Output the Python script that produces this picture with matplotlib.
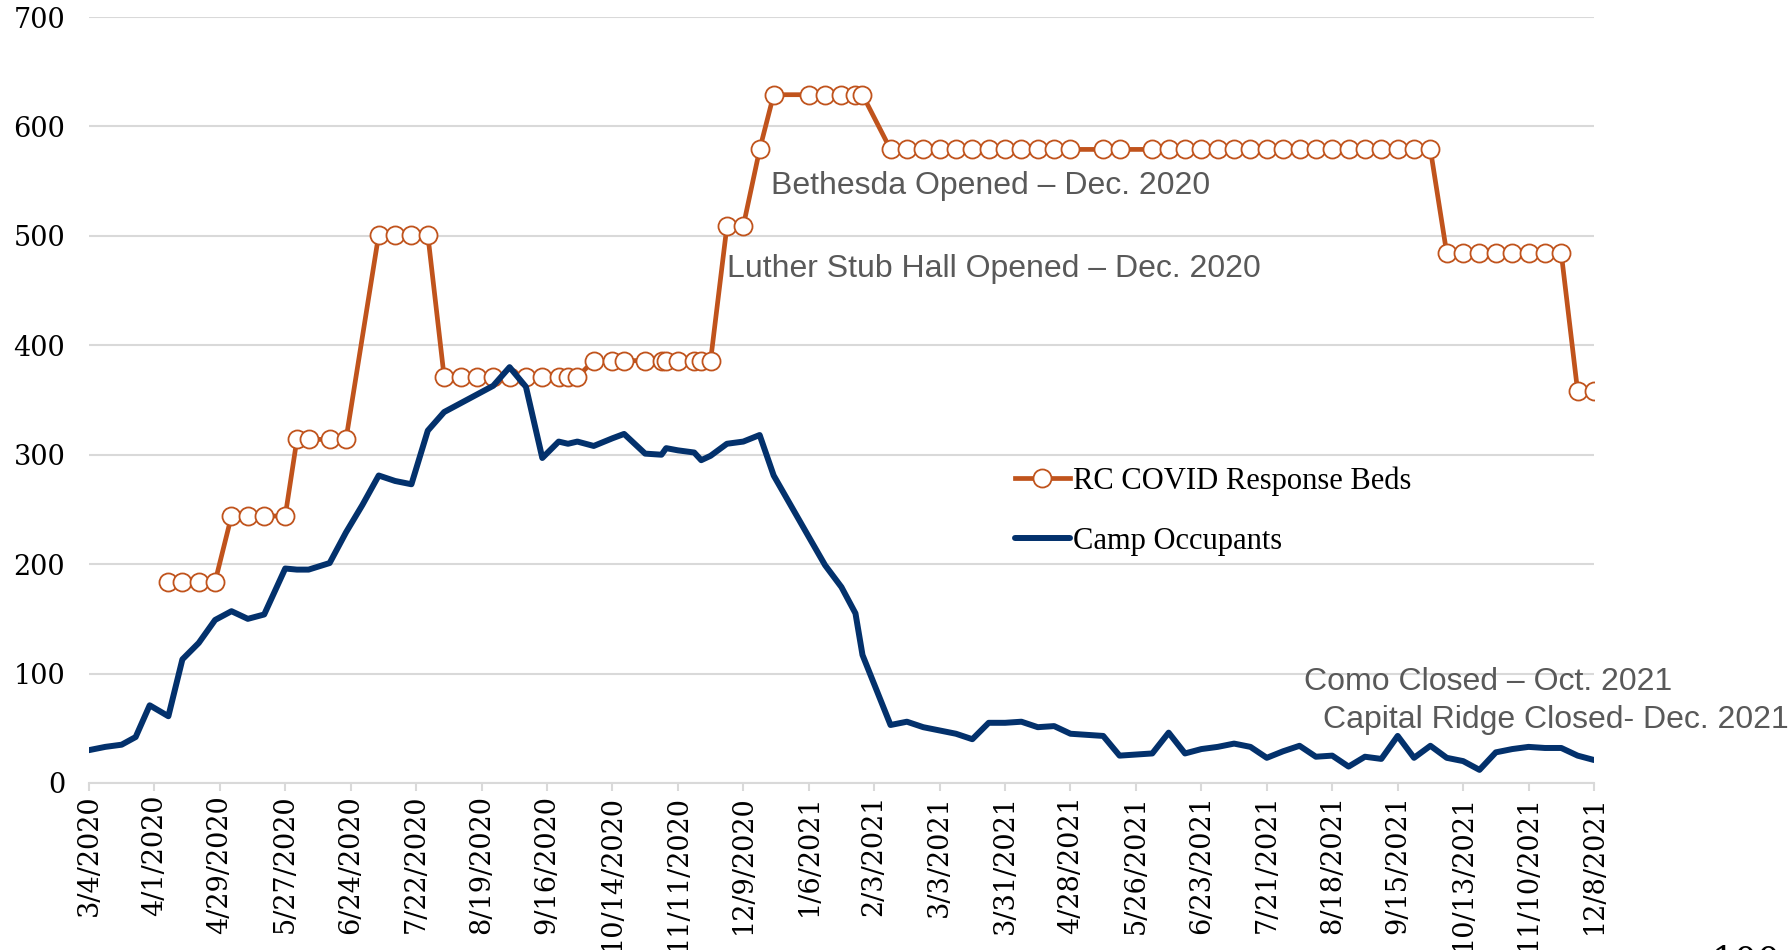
import matplotlib
matplotlib.use("Agg")
import matplotlib.pyplot as plt
import numpy as np
import pandas as pd

# report dates, as days after 3/4/2020
report_day = [0, 7, 14, 20, 26, 34, 40, 47, 54, 61, 68, 75, 84, 89, 94, 103, 110, 117,
              124, 131, 138, 145, 152, 159, 166, 173, 180, 187, 194, 201, 205, 209,
              216, 224, 229, 238, 245, 247, 252, 259, 262, 266, 273, 280, 287, 293,
              308, 315, 322, 328, 331, 343, 350, 357, 364, 371, 378, 385, 392, 399,
              406, 413, 420, 427, 434, 441, 448, 455, 462, 469, 476, 483, 490, 497,
              504, 511, 518, 525, 532, 539, 546, 553, 560, 567, 574, 581, 588, 595,
              602, 609, 616, 623, 630, 637, 644]

# RC COVID Response Beds (None = no report that week)
beds = [None, None, None, None, None, 184, 184, 184, 184, 244, 244, 244, 244,
        314, 314, 314, 314, None, 501, 501, 501, 501,
        371, 371, 371, 371, 371, 371, 371, 371, 371, 371,
        386, 386, 386, 386, 386, 386, 386, 386, 386, 386,
        509, 509, 579, 629, 629, 629, 629, 629, 629,
        579, 579, 579, 579, 579, 579, 579, 579, 579, 579, 579, 579,
        None, 579, 579, None,
        579, 579, 579, 579, 579, 579, 579, 579, 579, 579, 579, 579, 579, 579, 579, 579, 579, 579,
        484, 484, 484, 484, 484, 484, 484, 484, 358, 358]

# Camp Occupants
camp = [30, 33, 35, 42, 71, 61, 113, 128, 149, 157, 150, 154, 196, 195, 195, 201,
        229, 254, 281, 276, 273, 322, 339, 347, 355, 363, 380, 362, 297, 312, 310,
        312, 308, 315, 319, 301, 300, 306, 304, 302, 295, 299, 310, 312, 318, 281,
        225, 199, 179, 155, 117, 53, 56, 51, 48, 45, 40, 55, 55, 56, 51, 52, 45, 44,
        43, 25, 26, 27, 46, 27, 31, 33, 36, 33, 23, 29, 34, 24, 25, 15, 24, 22, 43,
        23, 34, 23, 20, 12, 28, 31, 33, 32, 32, 25, 21]

tick_labels = ["3/4/2020", "4/1/2020", "4/29/2020", "5/27/2020", "6/24/2020",
               "7/22/2020", "8/19/2020", "9/16/2020", "10/14/2020", "11/11/2020",
               "12/9/2020", "1/6/2021", "2/3/2021", "3/3/2021", "3/31/2021",
               "4/28/2021", "5/26/2021", "6/23/2021", "7/21/2021", "8/18/2021",
               "9/15/2021", "10/13/2021", "11/10/2021", "12/8/2021"]

start = pd.Timestamp("2020-03-04")
df = pd.DataFrame({
    "date": start + pd.to_timedelta(report_day, unit="D"),
    "beds": pd.to_numeric(pd.Series(beds, dtype="object"), errors="coerce"),
    "camp": camp,
})
bed_df = df.dropna(subset=["beds"])
tick_dates = pd.to_datetime(tick_labels, format="%m/%d/%Y")

orange = "#C0531C"
navy = "#03316C"
grid_c = "#D9D9D9"

fig = plt.figure(figsize=(17.89, 9.5), dpi=100)
ax = fig.add_axes([0.0497, 0.1758, 0.8413, 0.8063])

ax.plot(bed_df["date"], bed_df["beds"], color=orange, lw=3.4, marker="o",
        ms=13, mfc="white", mec=orange, mew=1.3, label="RC COVID Response Beds",
        zorder=3)
ax.plot(df["date"], df["camp"], color=navy, lw=4.3, solid_joinstyle="round",
        solid_capstyle="round", label="Camp Occupants", zorder=4)

ax.set_xlim(tick_dates[0], tick_dates[-1])
ax.set_ylim(0, 700)
ax.set_yticks(range(0, 701, 100))
ax.set_xticks(tick_dates)
ax.set_xticklabels(tick_labels, rotation=90, fontsize=19.5, family="DejaVu Serif")
for lab in ax.get_yticklabels():
    lab.set_family("DejaVu Serif")
    lab.set_fontsize(19.5)

ax.grid(axis="y", color=grid_c, lw=1.5)
ax.set_axisbelow(True)
for s in ["top", "right", "left"]:
    ax.spines[s].set_visible(False)
ax.spines["bottom"].set_color(grid_c)
ax.spines["bottom"].set_linewidth(1.5)
ax.tick_params(axis="x", length=5.5, width=1.5, color=grid_c, pad=3)
ax.tick_params(axis="y", length=0, pad=17)

note_font = dict(family="Liberation Sans", fontsize=23, color="#595959", va="center")
ax.text(start + pd.Timedelta(days=292), 546, "Bethesda Opened \u2013 Dec. 2020", **note_font)
ax.text(start + pd.Timedelta(days=273), 470, "Luther Stub Hall Opened \u2013 Dec. 2020", **note_font)
ax.text(start + pd.Timedelta(days=520), 92, "Como Closed \u2013 Oct. 2021", **note_font)
ax.text(start + pd.Timedelta(days=528), 58, "Capital Ridge Closed- Dec. 2021", **note_font)

ax.legend(loc="center left", bbox_to_anchor=(0.615, 0.355), frameon=False,
          prop={"family": "Liberation Serif", "size": 22}, handlelength=1.8,
          handletextpad=0.1, labelspacing=1.0, borderpad=0, borderaxespad=0)

# page number cut off at the slide edge
fig.text(0.957, 0.006, "100", fontsize=26, family="DejaVu Serif", va="top", ha="left")

fig.savefig("out.png", dpi=100)
